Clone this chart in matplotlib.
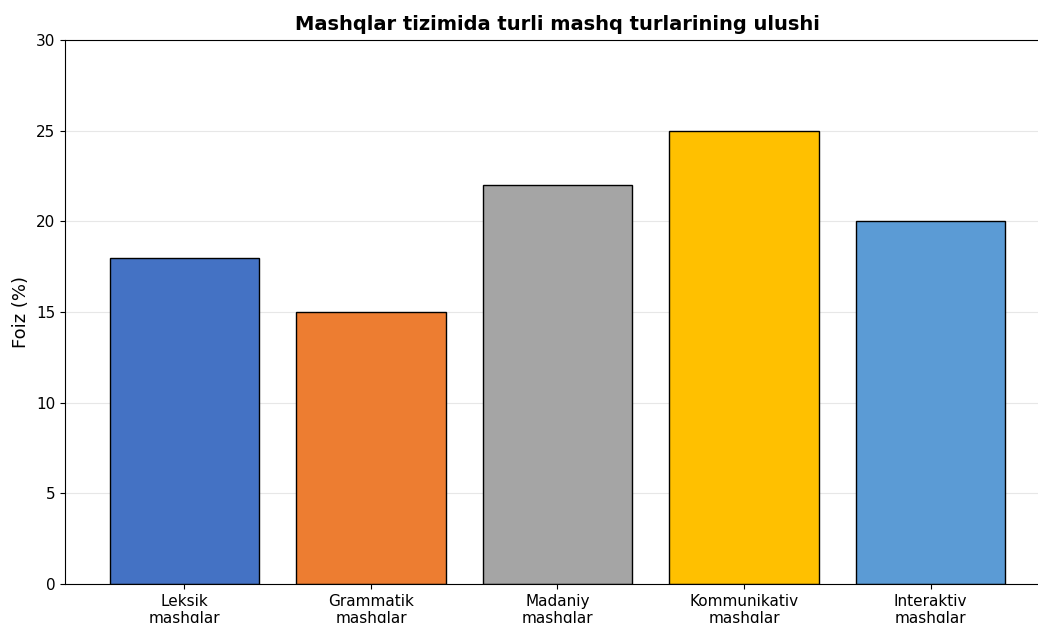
import matplotlib
matplotlib.use("Agg")
import matplotlib.pyplot as plt

# data
categories = ["Leksik\nmashqlar", "Grammatik\nmashqlar", "Madaniy\nmashqlar",
              "Kommunikativ\nmashqlar", "Interaktiv\nmashqlar"]
values = [18, 15, 22, 25, 20]
colors = ["#4472C4", "#ED7D31", "#A5A5A5", "#FFC000", "#5B9BD5"]

fig = plt.figure(figsize=(10.38, 6.23), dpi=100)
# axes run past the right edge, as in the cropped original
ax = fig.add_axes([65 / 1038, 1 - 584 / 623, 985 / 1038, 544 / 623])

ax.bar(range(len(values)), values, color=colors, edgecolor="black", linewidth=1.0, width=0.8)
ax.set_xticks(range(len(values)))
ax.set_xticklabels(categories, fontsize=11)
ax.set_ylim(0, 30)
ax.tick_params(axis="y", labelsize=11)
ax.set_ylabel("Foiz (%)", fontsize=13)
ax.set_title("Mashqlar tizimida turli mashq turlarining ulushi", fontsize=14, fontweight="bold", pad=7)

ax.grid(True, axis="y", alpha=0.3)
ax.set_axisbelow(True)

plt.savefig("out.png", dpi=100)
